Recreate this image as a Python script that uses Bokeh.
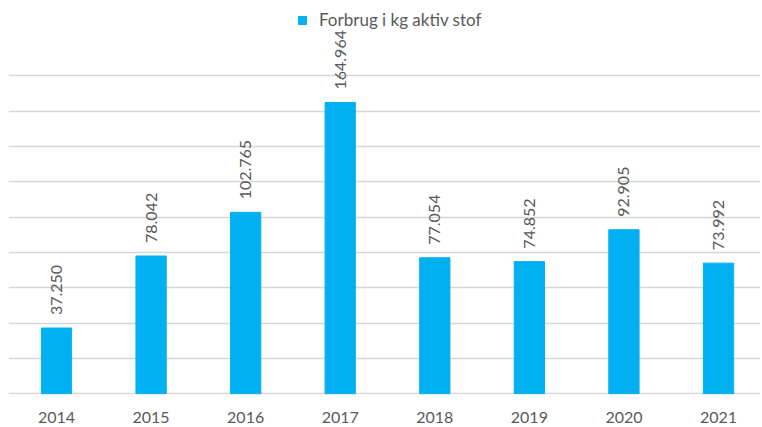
import math
from bokeh.plotting import figure
from bokeh.models import ColumnDataSource, Range1d, FixedTicker, LabelSet, Legend, LegendItem
from bokeh.core.properties import value
from bokeh.embed import file_html
from bokeh.resources import INLINE

years = [2014, 2015, 2016, 2017, 2018, 2019, 2020, 2021]
forbrug_kg = [37250, 78042, 102765, 164964, 77054, 74852, 92905, 73992]
grid_ticks = [0, 20000, 40000, 60000, 80000, 100000, 120000, 140000, 160000, 180000]
series_name = "Forbrug i kg aktiv stof"

labels = [f"{v:,}".replace(",", ".") for v in forbrug_kg]
src = ColumnDataSource(dict(x=years, y=forbrug_kg, label=labels))

FONT = "Lato"
TXT = "#595959"

p = figure(frame_width=752, frame_height=386, output_backend="svg", toolbar_location=None,
           x_range=Range1d(2013.4924, 2021.444), y_range=Range1d(-400, 218200),
           min_border_left=8, min_border_right=0, min_border_top=8, min_border_bottom=0)
p.outline_line_color = None
p.background_fill_color = "white"

r = p.vbar(x="x", top="y", width=0.32, bottom=0, source=src, fill_color="#00B0F0", line_color="#00B0F0")

p.yaxis.visible = False
p.ygrid.ticker = FixedTicker(ticks=grid_ticks)
p.ygrid.grid_line_color = "#d6d6d6"
p.ygrid.grid_line_width = 1.3
p.xgrid.visible = False

xa = p.xaxis[0]
xa.ticker = FixedTicker(ticks=years)
xa.axis_line_color = None
xa.major_tick_line_color = None
xa.minor_tick_line_color = None
xa.major_tick_in = 0
xa.major_tick_out = 0
xa.major_label_standoff = 17
xa.major_label_text_font = FONT
xa.major_label_text_font_size = "16px"
xa.major_label_text_color = TXT

ls = LabelSet(x="x", y="y", text="label", source=src, angle=math.pi / 2,
              text_align="left", text_baseline="middle", y_offset=13,
              text_font=value(FONT), text_font_size=value("16px"), text_color=value(TXT))
p.add_layout(ls)

legend = Legend(items=[LegendItem(label=series_name, renderers=[r])], location=(289, 364),
                orientation="horizontal", border_line_color=None, background_fill_alpha=0,
                padding=0, margin=0, spacing=0, glyph_width=10, glyph_height=10,
                label_standoff=12, label_text_font=FONT, label_text_font_size="17px",
                label_text_color=TXT)
p.add_layout(legend)

open("out.html", "w").write(file_html(p, INLINE))
